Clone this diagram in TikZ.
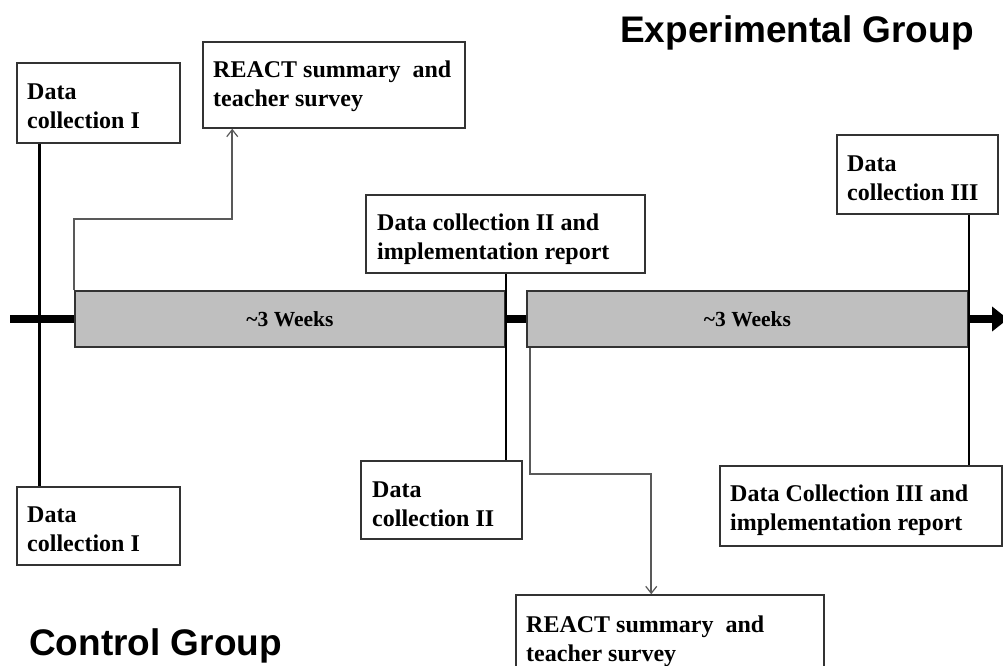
\documentclass[tikz,border=0pt]{standalone}
\usepackage{fontspec}
\setmainfont{Liberation Serif}
\newfontfamily\titlefont{Liberation Sans}
\usetikzlibrary{arrows.meta,calc}
\tikzset{
  box/.style={draw=black!80, line width=1.5pt, fill=white, rectangle, inner sep=0pt},
  wkbox/.style={draw=black!80, line width=1.5pt, fill=black!25, rectangle, inner sep=0pt,
    font=\fontsize{21.5}{25}\selectfont\bfseries},
  lbl/.style={anchor=base west, align=left, inner sep=0pt,
    font=\fontsize{24}{29}\selectfont\bfseries},
  title/.style={anchor=base west, inner sep=0pt, font=\titlefont\bfseries\fontsize{37}{44}\selectfont},
  conn/.style={draw=black, line width=2.5pt},
  garrow/.style={draw=black!65, line width=1.6pt, -{Straight Barb[length=7pt,width=11pt,line width=1.2pt]}},
  timeline/.style={draw=black, line width=7.5pt, -{Triangle[length=16pt,width=24pt]}}
}
\begin{document}
\begin{tikzpicture}[x=1pt,y=-1pt]
\clip (0,0) rectangle (1003,665);
\fill[white] (0,0) rectangle (1003,665);

% timeline
\coordinate (tl0) at (10,319);
\coordinate (tl1) at (1008,319);
\draw[timeline] (tl0) -- (tl1);

% week boxes
\node[wkbox, minimum width=430pt, minimum height=56pt] (wk1) at (290,319) {\textasciitilde3 Weeks};
\node[wkbox, minimum width=441pt, minimum height=56pt] (wk2) at (747.5,319) {\textasciitilde3 Weeks};

% boxes
\node[box, minimum width=163pt, minimum height=80pt] (dc1top) at (98.5,103) {};
\node[box, minimum width=262pt, minimum height=86pt] (react1) at (334,85) {};
\node[box, minimum width=279pt, minimum height=78pt] (dc2imp) at (505.5,234) {};
\node[box, minimum width=161pt, minimum height=79pt] (dc3) at (917.5,174.5) {};
\node[box, minimum width=163pt, minimum height=78pt] (dc1bot) at (98.5,526) {};
\node[box, minimum width=161pt, minimum height=78pt] (dc2) at (441.5,500) {};
\node[box, minimum width=282pt, minimum height=80pt] (dc3imp) at (861,506) {};
\node[box, minimum width=308pt, minimum height=90pt] (react2) at (670,640) {};

% texts (anchor = baseline of last line)
\node[lbl] (t1) at (27,128) {Data\\collection I};
\node[lbl] (t2) at (213,106) {REACT summary\ \ and\\teacher survey};
\node[lbl] (t3) at (377,259) {Data collection II and\\implementation report};
\node[lbl] (t4) at (847,200) {Data\\collection III};
\node[lbl] (t5) at (27,551) {Data\\collection I};
\node[lbl] (t6) at (372,526) {Data\\collection II};
\node[lbl] (t7) at (730,530) {Data Collection III and\\implementation report};
\node[lbl] (t8) at (526,661) {REACT summary\ \ and\\teacher survey};

% titles
\node[title] (exp) at (620,42) {Experimental Group};
\node[title] (ctl) at (29,655) {Control Group};

% connectors
\draw[conn] ([xshift=23pt]dc1top.south west) -- ([xshift=23pt]dc1bot.north west);
\draw[conn] (dc2imp.south -| wk1.east) -- (dc2.north -| wk1.east);
\draw[conn] (dc3.south -| wk2.east) -- (dc3imp.north -| wk2.east);

\draw[garrow] (wk1.north west) -- ++(0,-71) -| ([xshift=30pt]react1.south west);
\draw[garrow] ([xshift=4pt]wk2.south west) -- ++(0,126) -| ([xshift=136pt]react2.north west);
\end{tikzpicture}
\end{document}
